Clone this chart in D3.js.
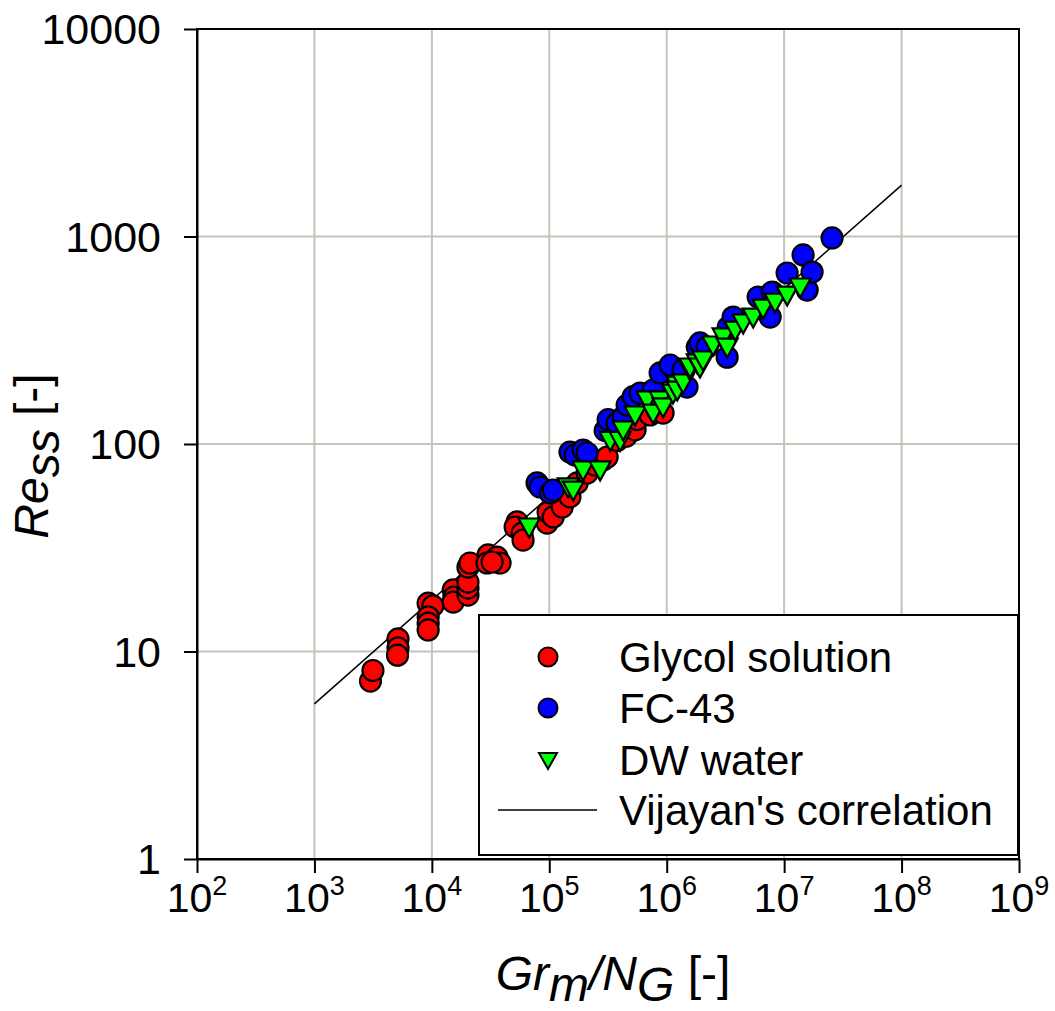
<!DOCTYPE html>
<html>
<head>
<meta charset="utf-8">
<script src="https://cdn.jsdelivr.net/npm/d3@7/dist/d3.min.js"></script>
<style>
body{margin:0;background:#fff;}
text{font-family:"Liberation Sans", Arial, sans-serif;fill:#000;}
</style>
</head>
<body>
<svg id="chart" width="1055" height="1011"></svg>
<script>
// Glycol solution
var glycolGr = [3000,3150,5150,5150,5100,9300,10200,9300,9300,9300,15200,15400,15200,20300,20300,20300,20300,21100,30100,29500,35900,38100,32600,53200,51200,58700,59800,95800,97700,108000,129000,150000,173000,210000,245000,287000,311000,378000,451000,538000,560000,722000,829000,931000];
var glycolRe = [7.2,8.1,11.5,10.4,9.6,17.1,16.6,14.7,13.7,12.7,19.8,18.3,17.3,18.7,20.2,21.6,25.5,26.7,29.2,26.7,28.5,26.7,27.0,42.1,39.8,37.2,34.4,41.6,47.0,44.5,49.7,55.6,64.9,72.5,79.2,83.7,86.5,104,109,117,131,138,146,141];
// FC-43
var fcGr = [78700,83500,102000,108000,150000,166000,194000,210000,299000,317000,378000,426000,460000,518000,593000,766000,879000,1070000,1380000,1490000,1820000,1920000,2210000,3270000,3340000,3680000,6010000,7600000,7910000,10600000,14500000,15700000,17300000,25600000];
var fcRe = [64.9,62.1,58.1,60.0,91.4,88.5,93.5,90.5,116,131,126,135,154,169,176,182,220,240,228,188,293,307,293,262,366,409,511,409,540,667,815,552,674,984];
// DW water
var dwGr = [67300,145000,160000,194000,271000,330000,401000,426000,538000,681000,766000,879000,931000,1130000,1230000,1230000,1380000,1580000,1580000,1820000,1920000,2040000,2480000,3020000,3270000,3830000,4480000,5450000,6620000,8380000,10600000,13700000];
var dwRe = [39.8,62.1,60.0,75.0,75.0,104,104,117,138,163,141,163,151,176,192,182,197,228,235,246,235,254,300,328,293,354,383,409,452,483,522,571];
// Vijayan's correlation end points
var corrGr = [1e3, 1e8];
var corrRe = [5.59, 1768];

var xTicks = [1e2,1e3,1e4,1e5,1e6,1e7,1e8,1e9];
var xExp = ["2","3","4","5","6","7","8","9"];
var yTicks = [1,10,100,1000,10000];
var yLabels = ["1","10","100","1000","10000"];

var legendNames = ["Glycol solution","FC-43","DW water","Vijayan's correlation"];

var svg = d3.select('#chart');
var x = d3.scaleLog().domain([1e2,1e9]).range([197,1019]);
var y = d3.scaleLog().domain([1,1e4]).range([859,29]);

var tri = "M-10.5,-8.5L10.5,-8.5L0,10.5Z";
var triSmall = "M-9,-7L9,-7L0,9Z";

// grid
svg.append('g').selectAll('line').data(xTicks.slice(1,-1)).enter().append('line')
	.attr('x1', function(d){return x(d);}).attr('x2', function(d){return x(d);})
	.attr('y1', 29).attr('y2', 859)
	.attr('stroke', '#c4c4b8').attr('stroke-width', 2);
svg.append('g').selectAll('line').data(yTicks.slice(1,-1)).enter().append('line')
	.attr('y1', function(d){return y(d);}).attr('y2', function(d){return y(d);})
	.attr('x1', 197).attr('x2', 1019)
	.attr('stroke', '#c4c4b8').attr('stroke-width', 2);

// axes
var gx = svg.append('g').attr('transform','translate(0,859)')
	.call(d3.axisBottom(x).tickValues(xTicks).tickSize(14).tickSizeOuter(0).tickFormat(''));
var gy = svg.append('g').attr('transform','translate(197,0)')
	.call(d3.axisLeft(y).tickValues(yTicks).tickSize(13).tickSizeOuter(0).tickFormat(''));
svg.selectAll('.domain, .tick line').attr('stroke','#000').attr('stroke-width',2);

// frame
svg.append('rect').attr('x',197).attr('y',29).attr('width',822).attr('height',830)
	.attr('fill','none').attr('stroke','#000').attr('stroke-width',2);

// tick labels
svg.append('g').selectAll('text').data(xTicks).enter().append('text')
	.attr('x', function(d){return x(d);}).attr('y', 912)
	.attr('text-anchor','middle').style('font-size','41px')
	.each(function(d,i){
		var t = d3.select(this);
		t.append('tspan').text('10');
		t.append('tspan').attr('dy',-17).style('font-size','27px').text(xExp[i]);
	});
svg.append('g').selectAll('text').data(yTicks).enter().append('text')
	.attr('x', 161).attr('y', function(d){return y(d);}).attr('dy','0.36em')
	.attr('text-anchor','end').style('font-size','43px')
	.text(function(d,i){return yLabels[i];});

// axis titles
var xt = svg.append('text').attr('x',613).attr('y',990).attr('text-anchor','middle').style('font-size','48px');
xt.append('tspan').style('font-style','italic').text('Gr');
xt.append('tspan').style('font-style','italic').attr('dy',11).text('m');
xt.append('tspan').style('font-style','italic').attr('dy',-11).text('/N');
xt.append('tspan').style('font-style','italic').attr('dy',11).text('G');
xt.append('tspan').attr('dy',-11).text(' [-]');

var yt = svg.append('text').attr('transform','translate(48,456) rotate(-90)').attr('text-anchor','middle').style('font-size','48px');
yt.append('tspan').style('font-style','italic').text('Re');
yt.append('tspan').style('font-style','italic').attr('dy',11).text('ss');
yt.append('tspan').attr('dy',-11).text(' [-]');

// correlation line
var line = d3.line().x(function(d){return x(d[0]);}).y(function(d){return y(d[1]);});
svg.append('path').datum(d3.zip(corrGr, corrRe)).attr('d', line)
	.attr('fill','none').attr('stroke','#000').attr('stroke-width',1.5);

// points
svg.append('g').selectAll('circle').data(d3.zip(glycolGr, glycolRe)).enter().append('circle')
	.attr('cx', function(d){return x(d[0]);}).attr('cy', function(d){return y(d[1]);}).attr('r',10.5)
	.attr('fill','#ff0000').attr('stroke','#000').attr('stroke-width',2.2);
svg.append('g').selectAll('circle').data(d3.zip(fcGr, fcRe)).enter().append('circle')
	.attr('cx', function(d){return x(d[0]);}).attr('cy', function(d){return y(d[1]);}).attr('r',10.5)
	.attr('fill','#0000ff').attr('stroke','#000').attr('stroke-width',2.2);
svg.append('g').selectAll('path').data(d3.zip(dwGr, dwRe)).enter().append('path')
	.attr('d', tri).attr('transform', function(d){return 'translate('+x(d[0])+','+y(d[1])+')';})
	.attr('fill','#00ff00').attr('stroke','#000').attr('stroke-width',2.2);

// legend
var lg = svg.append('g');
lg.append('rect').attr('x',479).attr('y',615).attr('width',539).attr('height',240)
	.attr('fill','#fff').attr('stroke','#000').attr('stroke-width',2);
var rowY = [657,708,760,810];
lg.append('circle').attr('cx',548).attr('cy',rowY[0]).attr('r',9.5).attr('fill','#ff0000').attr('stroke','#000').attr('stroke-width',2);
lg.append('circle').attr('cx',548).attr('cy',rowY[1]).attr('r',9.5).attr('fill','#0000ff').attr('stroke','#000').attr('stroke-width',2);
lg.append('path').attr('d',triSmall).attr('transform','translate(548,'+rowY[2]+')').attr('fill','#00ff00').attr('stroke','#000').attr('stroke-width',2);
lg.append('line').attr('x1',498).attr('x2',597).attr('y1',rowY[3]).attr('y2',rowY[3]).attr('stroke','#000').attr('stroke-width',1.5);
lg.selectAll('text').data(legendNames).enter().append('text')
	.attr('x',619).attr('y', function(d,i){return rowY[i];}).attr('dy','0.36em')
	.style('font-size','42px').text(function(d){return d;});
</script>
</body>
</html>
